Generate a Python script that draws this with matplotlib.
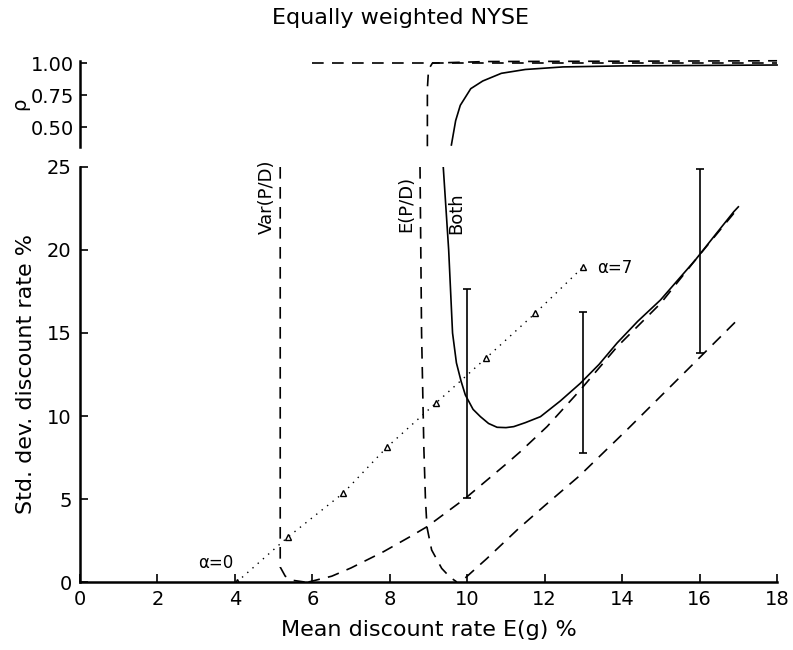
import matplotlib
matplotlib.use("Agg")
from matplotlib import pyplot as plt

# alpha points (triangles), alpha = 0..7
alpha_x = [4.05, 5.37, 6.80, 7.93, 9.20, 10.49, 11.76, 13.00]
alpha_y = [0.0, 2.71, 5.36, 8.13, 10.80, 13.50, 16.20, 19.00]

# Var(P/D) restriction
var_x = [5.17, 5.17, 5.30, 5.50, 5.80]
var_y = [25.0, 0.9, 0.35, 0.1, 0.0]

# E(P/D) restriction
epd_x = [8.78, 8.82, 8.88, 8.92, 8.96, 9.08, 9.34, 9.55, 9.73]
epd_y = [25.0, 15.0, 8.0, 5.0, 3.3, 1.93, 0.82, 0.3, 0.0]

# rising dashed curves
curve_a_x = [5.9, 6.5, 7.0, 7.84, 8.5, 8.96, 9.95, 11.0, 11.37, 12.06, 12.92, 13.87, 15.0, 15.89, 16.88, 17.0]
curve_a_y = [0.0, 0.35, 0.85, 1.83, 2.7, 3.33, 5.04, 7.1, 7.85, 9.36, 11.57, 14.17, 16.8, 19.4, 22.2, 22.5]
curve_b_x = [9.95, 10.5, 11.33, 12.0, 12.9, 14.12, 15.0, 15.85, 16.93]
curve_b_y = [0.25, 1.4, 3.23, 4.6, 6.4, 9.16, 11.2, 13.17, 15.68]

# both restrictions
both_x = [9.38, 9.52, 9.62, 9.72, 9.84, 9.95, 10.15, 10.34, 10.55, 10.77, 11.0, 11.2, 11.5, 11.89,
          12.4, 12.92, 13.4, 13.87, 14.4, 14.99, 15.89, 16.4, 16.88, 17.0]
both_y = [25.0, 20.0, 15.0, 13.2, 12.1, 11.27, 10.4, 9.96, 9.55, 9.32, 9.3, 9.36, 9.6, 9.96,
          10.9, 11.97, 13.1, 14.4, 15.7, 16.99, 19.4, 20.9, 22.3, 22.6]

# error bars
err_x = [10, 13, 16]
err_lo = [5.05, 7.8, 13.8]
err_hi = [17.65, 16.25, 24.9]

# correlation panel
rho_var_x = [6.0, 18.0]
rho_var_y = [1.0, 1.0]
rho_epd_x = [8.97, 8.97, 9.0, 9.1, 10.5, 18.0]
rho_epd_y = [0.35, 0.8, 0.95, 1.0, 1.012, 1.018]
rho_both_x = [9.59, 9.7, 9.82, 10.09, 10.4, 10.88, 11.5, 12.47, 14.0, 15.1, 18.0]
rho_both_y = [0.36, 0.55, 0.67, 0.80, 0.86, 0.92, 0.95, 0.97, 0.978, 0.98, 0.985]

fs = 14
lfs = 16
dash = (0, (7, 5))

fig = plt.figure(figsize=(7.93, 6.5), dpi=100)
ax = fig.add_axes([0.1009, 0.1046, 0.879, 0.6385])
ax2 = fig.add_axes([0.1009, 0.7738, 0.879, 0.1323])

# main panel
ax.plot(var_x, var_y, color='black', lw=1.2, linestyle=dash)
ax.plot(epd_x, epd_y, color='black', lw=1.2, linestyle=dash)
ax.plot(curve_a_x, curve_a_y, color='black', lw=1.2, linestyle=dash)
ax.plot(curve_b_x, curve_b_y, color='black', lw=1.2, linestyle=dash)
ax.plot(both_x, both_y, color='black', lw=1.2)
ax.plot(alpha_x, alpha_y, color='black', lw=1.0, linestyle=(0, (1, 4)),
        marker='^', markersize=5, markerfacecolor='white', markeredgewidth=1.0)

mid = [(l + h) / 2 for l, h in zip(err_lo, err_hi)]
half = [(h - l) / 2 for l, h in zip(err_lo, err_hi)]
ax.errorbar(err_x, mid, yerr=half, fmt='none', ecolor='black', elinewidth=1.2,
            capsize=3, capthick=1.2)

ax.text(4.83, 23.2, 'Var(P/D)', rotation=90, ha='center', va='center', fontsize=13)
ax.text(8.42, 22.8, 'E(P/D)', rotation=90, ha='center', va='center', fontsize=13)
ax.text(9.72, 22.2, 'Both', rotation=90, ha='center', va='center', fontsize=13)
ax.text(13.35, 18.9, 'α=7', ha='left', va='center', fontsize=12)
ax.text(3.5, 1.15, 'α=0', ha='center', va='center', fontsize=12)

ax.set_xlim(0, 18)
ax.set_ylim(0, 25)
ax.set_xticks(range(0, 19, 2))
ax.set_yticks(range(0, 26, 5))
ax.spines['top'].set_visible(False)
ax.spines['right'].set_visible(False)
ax.spines['left'].set_linewidth(1.8)
ax.spines['bottom'].set_linewidth(1.8)
ax.tick_params(direction='in', length=6, width=1.2, labelsize=fs, pad=6)
ax.set_xlabel('Mean discount rate E(g) %', fontsize=lfs, labelpad=8)
ax.set_ylabel('Std. dev. discount rate %', fontsize=lfs, labelpad=8)

# rho panel
ax2.plot(rho_var_x, rho_var_y, color='black', lw=1.2, linestyle=dash, clip_on=False)
ax2.plot(rho_epd_x, rho_epd_y, color='black', lw=1.2, linestyle=dash, clip_on=False)
ax2.plot(rho_both_x, rho_both_y, color='black', lw=1.2, clip_on=False)
ax2.set_xlim(0, 18)
ax2.set_ylim(0.344, 1.016)
ax2.set_yticks([0.50, 0.75, 1.00])
ax2.set_yticklabels(['0.50', '0.75', '1.00'])
for s in ['top', 'right', 'bottom']:
    ax2.spines[s].set_visible(False)
ax2.spines['left'].set_linewidth(1.8)
ax2.set_xticks([])
ax2.tick_params(direction='in', length=5, width=1.2, labelsize=fs, pad=4)
ax2.set_ylabel('ρ', fontsize=fs, labelpad=1)

fig.text(0.505, 0.972, 'Equally weighted NYSE', ha='center', va='center', fontsize=lfs)

fig.savefig('out.png', dpi=100)
